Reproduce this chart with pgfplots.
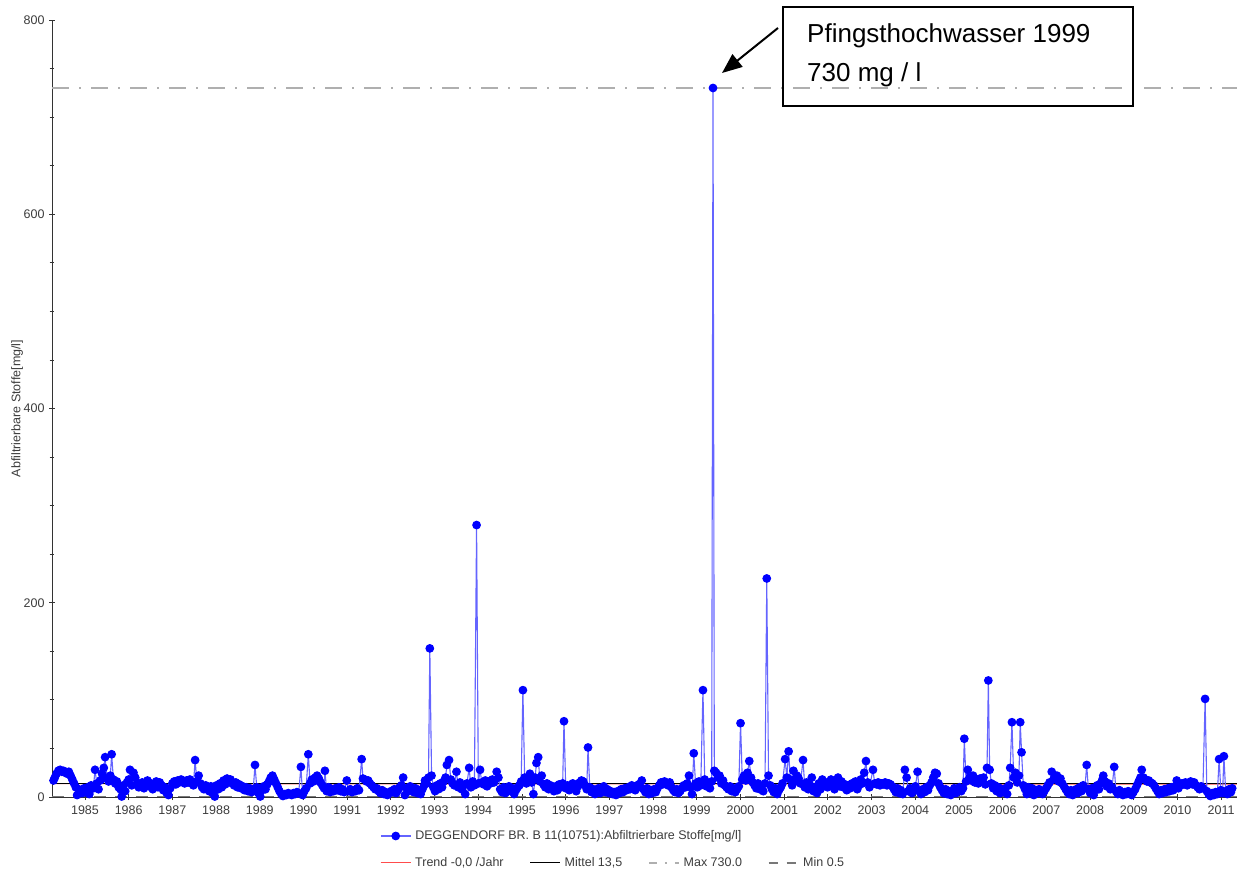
\documentclass[border=0pt]{standalone}
\usepackage{fontspec}
\setmainfont{Liberation Sans}
\usepackage{pgfplots}
\pgfplotsset{compat=1.18}
\usetikzlibrary{arrows.meta}

\definecolor{ptblue}{RGB}{0,0,255}
\definecolor{lnblue}{RGB}{100,100,255}
\definecolor{txtgray}{RGB}{60,60,60}
\definecolor{maxgray}{RGB}{175,175,175}
\definecolor{mingray}{RGB}{120,120,120}

\newcommand{\smallfont}{\fontsize{12.5}{14}\selectfont}

\begin{document}
\begin{tikzpicture}[x=1pt,y=1pt]
\useasboundingbox (0,0) rectangle (1237,873);

\begin{axis}[
    at={(52pt,76pt)}, anchor=south west,
    scale only axis, width=1185pt, height=777pt,
    xmin=1984.245, xmax=2011.36, ymin=0, ymax=800,
    axis x line*=bottom, axis y line*=left,
    axis line style={black!80, line width=0.9pt},
    xtick={1985,...,2011},
    ytick={0,200,400,600,800},
    minor y tick num=3,
    tick align=center,
    major tick length=6pt, minor tick length=5pt,
    tick style={black!80, line width=0.8pt},
    /pgf/number format/assume math mode=true,
    /pgf/number format/.cd, set thousands separator={}, 
    /pgfplots/.cd,
    tick label style={font=\smallfont, text=txtgray},
    xticklabel style={yshift=-2pt},
    yticklabel style={xshift=-1pt},
    ylabel={Abfiltrierbare Stoffe[mg/l]},
    ylabel style={font=\smallfont, text=txtgray, at={(axis description cs:-0.0295,0.5)}, anchor=center},
    clip=false,
    legend style={at={(0.2768,-0.0502)}, anchor=west, draw=none, fill=none,
        font=\smallfont, text=txtgray, inner sep=0pt, nodes={inner xsep=4pt}},
    legend image code/.code={\draw[mark repeat=2,mark phase=2,#1] plot coordinates {(0pt,0pt) (15pt,0pt) (30pt,0pt)};},
]
% Trend (red, under the mean line)
\addplot[red!70, line width=1pt, forget plot] coordinates {(1984.245,13.7) (2011.36,13.3)};
% Min 0.5
\addplot[mingray, line width=1.2pt, dash pattern=on 12pt off 9pt, forget plot] coordinates {(1984.245,0.5) (2011.36,0.5)};
% Max 730
\addplot[maxgray, line width=1.3pt, dash pattern=on 17pt off 10pt on 2pt off 10pt, forget plot] coordinates {(1984.245,730) (2011.36,730)};
% Mittel 13,5
\addplot[black, line width=1pt, forget plot] coordinates {(1984.245,13.5) (2011.36,13.5)};

% Messwerte
\addplot[lnblue, line width=1.1pt, mark=*, mark size=3.8pt, mark options={draw=ptblue, fill=ptblue, solid}] coordinates {
(1984.28,17) (1984.31,20) (1984.35,24) (1984.39,27) (1984.43,28) (1984.47,26) (1984.51,27) (1984.55,25)
(1984.59,24) (1984.63,26) (1984.67,22) (1984.71,18) (1984.75,14) (1984.79,10) (1984.82,2) (1984.86,8)
(1984.90,6) (1984.94,4) (1984.98,9) (1985.02,5) (1985.06,10) (1985.10,3) (1985.14,12) (1985.19,9)
(1985.23,28) (1985.27,14) (1985.31,8) (1985.35,17) (1985.39,24) (1985.43,30) (1985.46,41) (1985.50,19)
(1985.54,16) (1985.58,22) (1985.61,44) (1985.65,18) (1985.69,14) (1985.73,16) (1985.77,10) (1985.81,8)
(1985.84,0.5) (1985.88,12) (1985.92,6) (1985.96,15) (1986.00,18) (1986.03,28) (1986.07,12) (1986.11,25)
(1986.15,20) (1986.19,14) (1986.23,10) (1986.27,12) (1986.31,15) (1986.35,9) (1986.39,13) (1986.43,17)
(1986.47,11) (1986.51,14) (1986.55,8) (1986.59,13) (1986.63,16) (1986.67,10) (1986.71,15) (1986.75,12)
(1986.79,7) (1986.83,10) (1986.87,4) (1986.91,2) (1986.95,9) (1987.00,14) (1987.04,16) (1987.08,13)
(1987.12,17) (1987.16,15) (1987.20,18) (1987.24,16) (1987.28,14) (1987.32,17) (1987.36,15) (1987.40,18)
(1987.44,14) (1987.48,12) (1987.52,38) (1987.56,16) (1987.60,22) (1987.64,14) (1987.68,10) (1987.72,8)
(1987.76,12) (1987.80,9) (1987.84,6) (1987.88,11) (1987.92,4) (1987.97,0.5) (1988.01,12) (1988.05,8)
(1988.09,14) (1988.13,10) (1988.17,17) (1988.21,13) (1988.25,19) (1988.29,16) (1988.33,18) (1988.37,14)
(1988.41,12) (1988.45,15) (1988.49,10) (1988.53,13) (1988.57,9) (1988.61,11) (1988.65,7) (1988.69,10)
(1988.73,6) (1988.77,9) (1988.81,5) (1988.85,8) (1988.89,33) (1988.93,10) (1988.97,4) (1989.01,0.5)
(1989.05,7) (1989.09,11) (1989.13,8) (1989.17,13) (1989.21,16) (1989.25,20) (1989.29,22) (1989.33,18)
(1989.37,14) (1989.41,10) (1989.45,6) (1989.49,3) (1989.53,1) (1989.57,3) (1989.61,2) (1989.65,4)
(1989.69,3) (1989.73,2) (1989.77,4) (1989.81,3) (1989.85,5) (1989.89,4) (1989.94,31) (1989.98,2)
(1990.02,6) (1990.06,9) (1990.11,44) (1990.15,14) (1990.19,18) (1990.23,16) (1990.27,20) (1990.31,22)
(1990.35,19) (1990.39,15) (1990.43,12) (1990.47,9) (1990.49,27) (1990.53,6) (1990.57,10) (1990.61,5)
(1990.65,8) (1990.69,6) (1990.73,9) (1990.77,7) (1990.81,10) (1990.85,6) (1990.89,8) (1990.93,5)
(1990.99,17) (1991.03,6) (1991.07,8) (1991.11,5) (1991.15,7) (1991.19,6) (1991.23,9) (1991.27,7)
(1991.33,39) (1991.36,19) (1991.40,18) (1991.44,16) (1991.48,17) (1991.52,14) (1991.56,12) (1991.60,10)
(1991.64,8) (1991.68,9) (1991.72,6) (1991.76,4) (1991.80,7) (1991.84,3) (1991.88,5) (1991.92,2)
(1991.96,4) (1992.00,6) (1992.04,5) (1992.08,8) (1992.12,4) (1992.16,7) (1992.20,10) (1992.24,12)
(1992.28,20) (1992.32,2) (1992.36,9) (1992.40,6) (1992.44,11) (1992.48,8) (1992.52,5) (1992.56,9)
(1992.60,4) (1992.64,7) (1992.68,3) (1992.72,8) (1992.76,12) (1992.78,17) (1992.82,14) (1992.86,20)
(1992.89,153) (1992.93,22) (1992.97,10) (1993.01,6) (1993.05,12) (1993.09,8) (1993.13,14) (1993.17,10)
(1993.21,16) (1993.25,20) (1993.28,33) (1993.33,38) (1993.37,18) (1993.41,14) (1993.45,12) (1993.50,26)
(1993.54,10) (1993.58,15) (1993.62,8) (1993.66,12) (1993.70,3) (1993.74,14) (1993.79,30) (1993.83,10)
(1993.87,16) (1993.91,12) (1993.96,280) (1994.00,14) (1994.04,28) (1994.08,15) (1994.12,13) (1994.16,17)
(1994.20,11) (1994.24,16) (1994.28,14) (1994.32,18) (1994.36,15) (1994.42,26) (1994.46,20) (1994.50,8)
(1994.54,5) (1994.58,10) (1994.62,4) (1994.66,8) (1994.70,11) (1994.74,6) (1994.78,9) (1994.82,3)
(1994.86,7) (1994.90,10) (1994.94,12) (1994.98,16) (1995.02,110) (1995.06,20) (1995.10,14) (1995.14,18)
(1995.18,24) (1995.22,15) (1995.26,3) (1995.30,20) (1995.33,35) (1995.37,41) (1995.41,16) (1995.45,22)
(1995.49,13) (1995.53,10) (1995.57,14) (1995.61,8) (1995.65,12) (1995.69,9) (1995.73,6) (1995.77,11)
(1995.81,7) (1995.85,13) (1995.89,10) (1995.93,14) (1995.96,78) (1996.00,9) (1996.04,12) (1996.08,7)
(1996.12,10) (1996.16,14) (1996.20,9) (1996.24,6) (1996.28,11) (1996.32,15) (1996.36,17) (1996.40,16)
(1996.44,12) (1996.48,8) (1996.51,51) (1996.55,10) (1996.59,5) (1996.63,8) (1996.67,3) (1996.71,6)
(1996.75,9) (1996.79,4) (1996.83,7) (1996.87,11) (1996.91,5) (1996.95,8) (1996.99,4) (1997.03,6)
(1997.07,3) (1997.11,5) (1997.15,2) (1997.19,6) (1997.23,4) (1997.27,8) (1997.31,5) (1997.35,9)
(1997.39,7) (1997.43,10) (1997.47,8) (1997.51,12) (1997.55,9) (1997.59,7) (1997.63,11) (1997.67,13)
(1997.71,10) (1997.74,17) (1997.78,8) (1997.82,5) (1997.86,9) (1997.90,3) (1997.94,7) (1997.98,4)
(1998.02,8) (1998.06,5) (1998.10,9) (1998.14,12) (1998.18,15) (1998.22,13) (1998.26,16) (1998.30,14)
(1998.34,12) (1998.38,15) (1998.42,10) (1998.46,7) (1998.50,5) (1998.54,8) (1998.58,4) (1998.62,6)
(1998.66,9) (1998.70,12) (1998.74,10) (1998.78,14) (1998.82,22) (1998.86,10) (1998.89,3) (1998.93,45)
(1998.97,14) (1999.01,10) (1999.05,16) (1999.09,12) (1999.14,110) (1999.18,18) (1999.22,11) (1999.26,14)
(1999.30,9) (1999.34,16) (1999.37,730) (1999.40,27) (1999.44,25) (1999.48,20) (1999.52,22) (1999.56,14)
(1999.60,17) (1999.64,12) (1999.68,10) (1999.72,8) (1999.76,11) (1999.80,6) (1999.84,9) (1999.88,5)
(1999.92,8) (1999.96,11) (2000.00,76) (2000.04,18) (2000.08,22) (2000.12,17) (2000.16,25) (2000.20,37)
(2000.24,20) (2000.28,15) (2000.32,12) (2000.36,9) (2000.40,14) (2000.44,8) (2000.48,11) (2000.52,6)
(2000.56,14) (2000.60,225) (2000.64,22) (2000.68,12) (2000.72,8) (2000.76,5) (2000.80,9) (2000.84,3)
(2000.88,7) (2000.92,10) (2000.96,14) (2001.02,39) (2001.06,20) (2001.10,47) (2001.14,18) (2001.18,12)
(2001.21,27) (2001.25,16) (2001.29,22) (2001.33,19) (2001.37,14) (2001.43,38) (2001.47,10) (2001.51,15)
(2001.55,8) (2001.59,12) (2001.63,20) (2001.67,6) (2001.71,10) (2001.75,4) (2001.79,14) (2001.83,8)
(2001.87,18) (2001.91,12) (2001.95,15) (2001.99,10) (2002.03,14) (2002.07,18) (2002.11,12) (2002.15,8)
(2002.19,14) (2002.23,20) (2002.27,11) (2002.31,16) (2002.35,10) (2002.39,13) (2002.43,7) (2002.47,12)
(2002.51,9) (2002.55,14) (2002.59,11) (2002.63,16) (2002.67,8) (2002.71,12) (2002.75,18) (2002.79,14)
(2002.83,25) (2002.87,37) (2002.91,15) (2002.95,10) (2003.03,28) (2003.07,14) (2003.11,13) (2003.15,15)
(2003.19,12) (2003.23,14) (2003.27,13) (2003.31,15) (2003.35,12) (2003.39,14) (2003.43,13) (2003.47,11)
(2003.51,8) (2003.55,5) (2003.59,9) (2003.63,4) (2003.67,7) (2003.71,3) (2003.76,28) (2003.80,20)
(2003.84,6) (2003.88,9) (2003.92,4) (2003.96,8) (2004.00,11) (2004.05,26) (2004.09,6) (2004.13,3)
(2004.17,8) (2004.21,5) (2004.25,10) (2004.29,7) (2004.33,12) (2004.37,15) (2004.41,20) (2004.45,25)
(2004.49,24) (2004.53,14) (2004.57,10) (2004.61,7) (2004.65,4) (2004.69,8) (2004.73,3) (2004.77,6)
(2004.81,2) (2004.85,5) (2004.89,9) (2004.93,4) (2004.97,7) (2005.01,10) (2005.05,6) (2005.09,9)
(2005.12,60) (2005.16,16) (2005.20,28) (2005.24,20) (2005.28,17) (2005.32,22) (2005.36,15) (2005.40,18)
(2005.44,14) (2005.48,19) (2005.52,16) (2005.56,20) (2005.60,13) (2005.64,30) (2005.67,120) (2005.70,28)
(2005.74,14) (2005.78,9) (2005.82,12) (2005.86,6) (2005.90,10) (2005.94,4) (2005.98,8) (2006.02,5)
(2006.06,9) (2006.10,3) (2006.14,12) (2006.17,30) (2006.21,77) (2006.25,20) (2006.29,25) (2006.33,15)
(2006.37,22) (2006.40,77) (2006.43,46) (2006.47,12) (2006.51,8) (2006.55,3) (2006.59,10) (2006.63,5)
(2006.67,9) (2006.71,2) (2006.75,7) (2006.79,4) (2006.83,8) (2006.87,5) (2006.91,3) (2006.95,6)
(2006.99,9) (2007.03,12) (2007.07,15) (2007.12,26) (2007.16,18) (2007.20,20) (2007.24,22) (2007.28,16)
(2007.32,19) (2007.36,14) (2007.40,11) (2007.44,8) (2007.48,5) (2007.52,3) (2007.56,7) (2007.60,2)
(2007.64,5) (2007.68,8) (2007.72,4) (2007.76,10) (2007.80,6) (2007.84,12) (2007.88,9) (2007.92,33)
(2007.96,8) (2008.00,4) (2008.04,9) (2008.08,2) (2008.12,7) (2008.16,12) (2008.20,8) (2008.24,14)
(2008.28,18) (2008.30,22) (2008.34,16) (2008.38,11) (2008.42,14) (2008.46,8) (2008.50,10) (2008.55,31)
(2008.59,6) (2008.63,3) (2008.67,7) (2008.71,4) (2008.75,2) (2008.79,5) (2008.83,3) (2008.87,6)
(2008.91,4) (2008.95,2) (2008.99,5) (2009.03,8) (2009.07,12) (2009.11,16) (2009.15,20) (2009.18,28)
(2009.22,20) (2009.26,18) (2009.30,16) (2009.34,17) (2009.38,15) (2009.42,14) (2009.46,12) (2009.50,9)
(2009.54,6) (2009.58,3) (2009.62,7) (2009.66,4) (2009.70,8) (2009.74,5) (2009.78,9) (2009.82,6)
(2009.86,10) (2009.90,7) (2009.94,11) (2009.98,17) (2010.02,9) (2010.06,12) (2010.10,14) (2010.14,13)
(2010.18,15) (2010.22,12) (2010.26,14) (2010.30,16) (2010.34,13) (2010.38,15) (2010.42,12) (2010.46,10)
(2010.50,8) (2010.54,11) (2010.58,9) (2010.63,101) (2010.67,6) (2010.71,3) (2010.75,1) (2010.79,4)
(2010.83,2) (2010.87,5) (2010.91,3) (2010.95,39) (2010.99,7) (2011.03,4) (2011.06,42) (2011.10,6)
(2011.14,3) (2011.18,8) (2011.22,5) (2011.25,9)
};
\addlegendentry{DEGGENDORF BR. B 11(10751):Abfiltrierbare Stoffe[mg/l]}
\end{axis}

% second legend row
\begin{axis}[
    at={(52pt,76pt)}, anchor=south west,
    scale only axis, width=1185pt, height=777pt,
    xmin=0, xmax=1, ymin=0, ymax=1, hide axis,
    legend columns=4,
    legend style={at={(0.2768,-0.0849)}, anchor=west, draw=none, fill=none,
        font=\smallfont, text=txtgray, inner sep=0pt, nodes={inner xsep=4pt},
        /tikz/every even column/.append style={column sep=22pt}},
    legend image code/.code={\draw[#1] (0pt,0pt) -- (30pt,0pt);},
]
\addlegendimage{red!70, line width=1pt}
\addlegendentry{Trend -0,0 /Jahr}
\addlegendimage{black, line width=1pt}
\addlegendentry{Mittel 13,5}
\addlegendimage{maxgray, line width=1.3pt, dash pattern=on 8pt off 8pt on 2pt off 8pt}
\addlegendentry{Max 730.0}
\addlegendimage{mingray, line width=1.2pt, dash pattern=on 9pt off 9pt}
\addlegendentry{Min 0.5}
\end{axis}

% annotation
\draw[line width=2pt] (783,866) rectangle (1133,767);
\node[anchor=base west, inner sep=0pt, font=\fontsize{26}{30}\selectfont] at (807,830) {Pfingsthochwasser 1999};
\node[anchor=base west, inner sep=0pt, font=\fontsize{26}{30}\selectfont] at (807,791) {730 mg / l};
\draw[line width=2pt, -{Triangle[length=20pt,width=16pt]}] (778,845) -- (722,800);
\end{tikzpicture}
\end{document}
